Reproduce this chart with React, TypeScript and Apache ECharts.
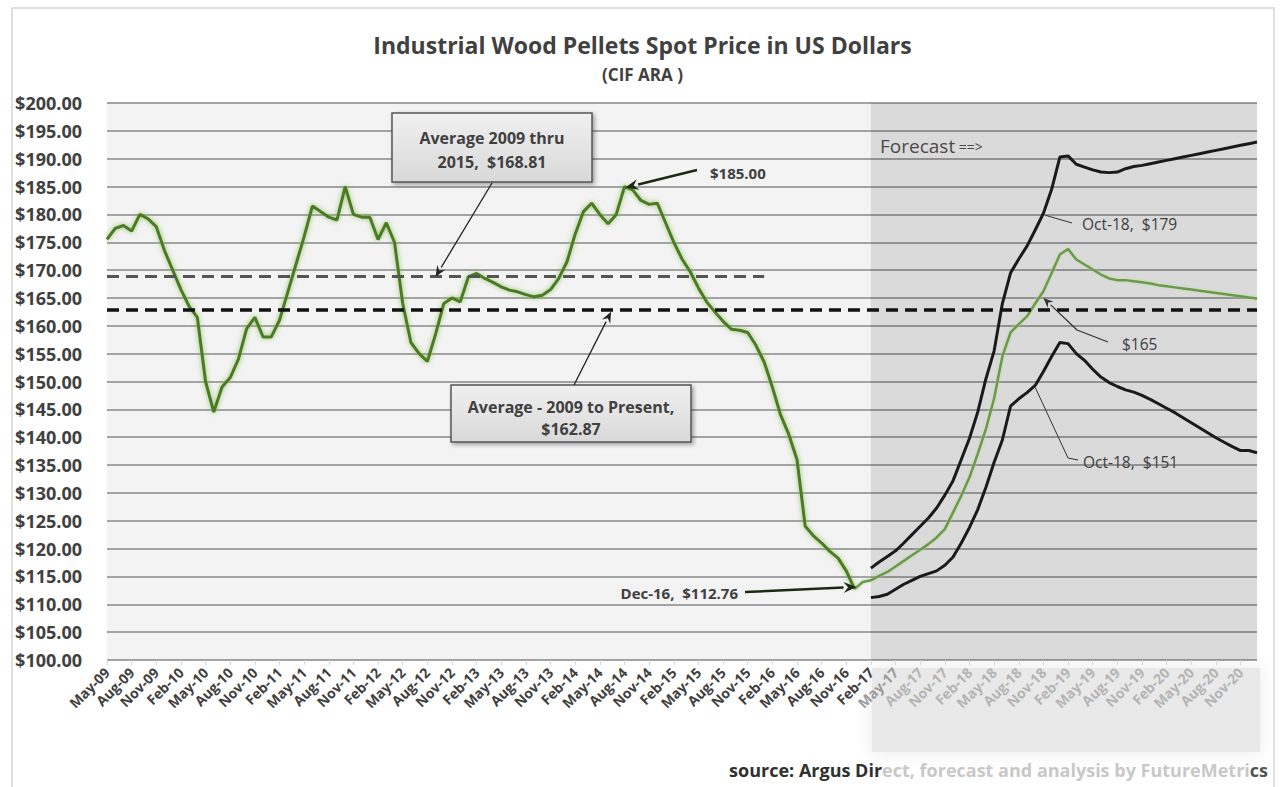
import React, { useEffect, useRef } from "react";
import * as echarts from "echarts";

// ---------- data ----------
const MONTH_NAMES = ["Jan", "Feb", "Mar", "Apr", "May", "Jun", "Jul", "Aug", "Sep", "Oct", "Nov", "Dec"];
const START_YEAR = 2009;
const START_MONTH = 4; // May
const MONTH_COUNT = 141; // May-09 .. Jan-21

const categories: string[] = [];
for (let i = 0; i < MONTH_COUNT; i++) {
  const m = (START_MONTH + i) % 12;
  const y = START_YEAR + Math.floor((START_MONTH + i) / 12);
  categories.push(`${MONTH_NAMES[m]}-${String(y % 100).padStart(2, "0")}`);
}

// monthly spot price, May-09 .. Dec-16
const histPrices = [
  175.5, 177.5, 178, 177, 180, 179.2, 177.8, 173.5, 170, 166.5,
  163.5, 161.5, 150, 144.5, 149, 150.7, 154, 159.5, 161.5, 158,
  158, 161, 166, 171, 176, 181.5, 180.5, 179.5, 179, 185,
  180, 179.5, 179.5, 175.5, 178.5, 175, 164, 157, 155, 153.6,
  158.5, 164, 165, 164.3, 168.8, 169.4, 168.5, 167.8, 167, 166.4,
  166.1, 165.6, 165.2, 165.5, 166.5, 168.5, 171.5, 176.5, 180.5, 182,
  180, 178.3, 180, 185, 184.4, 182.5, 181.8, 182, 178.5, 175,
  172, 169.7, 166.8, 164.3, 162.5, 160.8, 159.4, 159.2, 158.8, 156.5,
  153.5, 149, 144, 140.5, 136, 124, 122.3, 121, 119.5, 118.3,
  116, 112.76,
];
const HIST_START = 0;

// forecast (base case), Jan-17 .. Jan-21
const forecastMid = [
  114, 114.3, 115.1, 115.8, 116.8, 117.8, 118.8, 119.8, 120.8, 122,
  123.5, 126.5, 129.5, 132.8, 137, 141.5, 147, 154.5, 158.8, 160.3,
  161.7, 164, 166.2, 169.5, 172.8, 173.8, 171.9, 171, 170.1, 169.2,
  168.5, 168.2, 168.2, 168, 167.8, 167.6, 167.3, 167.1, 166.9, 166.7,
  166.5, 166.3, 166.1, 165.9, 165.7, 165.5, 165.3, 165.1, 164.9,
];
const MID_START = 92;

// forecast high case, Feb-17 .. Jan-21
const forecastHigh = [
  116.5, 117.6, 118.6, 119.6, 121, 122.5, 124, 125.5, 127.3, 129.6,
  132.2, 136, 139.8, 144.5, 150.5, 155.5, 164, 169.5, 172, 174.3,
  177.2, 180.2, 184.5, 190.3, 190.5, 189, 188.5, 188, 187.6, 187.5,
  187.6, 188.2, 188.6, 188.8, 189.1, 189.4, 189.7, 190, 190.3, 190.6,
  190.9, 191.2, 191.5, 191.8, 192.1, 192.4, 192.7, 193,
];
// forecast low case, Feb-17 .. Jan-21
const forecastLow = [
  111.2, 111.4, 111.8, 112.7, 113.6, 114.3, 115, 115.5, 116, 117,
  118.5, 121, 123.8, 127, 131, 135.5, 139.5, 145.6, 146.9, 148,
  149.3, 151.8, 154.5, 157, 156.8, 155, 153.8, 152.2, 150.8, 149.8,
  149.1, 148.5, 148.1, 147.5, 146.8, 146, 145.2, 144.4, 143.5, 142.6,
  141.7, 140.8, 139.9, 139.1, 138.3, 137.6, 137.6, 137.2,
];
const CASE_START = 93;

const AVG_2009_2015 = 168.81;
const AVG_2009_PRESENT = 162.87;
const AVG_2015_END_INDEX = 80;
const FORECAST_START_INDEX = 93;

const TITLE = "Industrial Wood Pellets Spot Price in US Dollars";
const SUBTITLE = "(CIF ARA )";
const SOURCE_A = "source: Argus Dir";
const SOURCE_B = "ect, forecast and analysis by FutureMetri";
const SOURCE_C = "cs";

const FONT = "Open Sans";

function pad(values: number[], start: number): (number | null)[] {
  const out: (number | null)[] = new Array(MONTH_COUNT).fill(null);
  values.forEach((v, i) => (out[start + i] = v));
  return out;
}

function arrow(x1: number, y1: number, x2: number, y2: number, color: string, width: number, head: number) {
  const ang = Math.atan2(y2 - y1, x2 - x1);
  const hx = x2 - head * Math.cos(ang);
  const hy = y2 - head * Math.sin(ang);
  const px = -Math.sin(ang) * head * 0.42;
  const py = Math.cos(ang) * head * 0.42;
  return [
    { type: "line", silent: true, z: 12, shape: { x1, y1, x2: hx, y2: hy }, style: { stroke: color, lineWidth: width } },
    {
      type: "polygon",
      silent: true,
      z: 12,
      shape: { points: [[x2, y2], [hx + px, hy + py], [hx + 0.35 * (x2 - hx), hy + 0.35 * (y2 - hy)], [hx - px, hy - py]] },
      style: { fill: color },
    },
  ];
}

export default function App() {
  const ref = useRef<HTMLDivElement>(null);

  useEffect(() => {
    if (!ref.current) return;
    const chart = echarts.init(ref.current, undefined, { renderer: "svg" });

    const histData = pad(histPrices, HIST_START);
    const midData = pad([histPrices[histPrices.length - 1], ...forecastMid], MID_START - 1);
    const highData = pad(forecastHigh, CASE_START);
    const lowData = pad(forecastLow, CASE_START);

    const labelColor = (v: string) => {
      const idx = categories.indexOf(v);
      if (idx <= FORECAST_START_INDEX) return "#404040";
      if (idx <= FORECAST_START_INDEX + 3) return "#9a9a9a";
      return "#b4b4b4";
    };

    chart.setOption({
      animation: false,
      backgroundColor: "#ffffff",
      title: {
        text: TITLE,
        subtext: SUBTITLE,
        left: "center",
        top: 28,
        itemGap: 10,
        textStyle: { fontFamily: FONT, fontSize: 23, fontWeight: "bold", color: "#404040" },
        subtextStyle: { fontFamily: FONT, fontSize: 17, fontWeight: "bold", color: "#404040" },
      },
      grid: { left: 107, right: 28, top: 103, bottom: 127, show: true, backgroundColor: "#f3f3f3", borderWidth: 0 },
      xAxis: {
        type: "category",
        data: categories,
        boundaryGap: false,
        axisLine: { show: false },
        axisTick: { show: true, interval: 2, length: 5, lineStyle: { color: "#d6d6d6" } },
        axisLabel: {
          interval: 2,
          rotate: 45,
          margin: 10,
          fontFamily: FONT,
          fontSize: 14,
          fontWeight: "bold",
          color: labelColor,
        },
        splitLine: { show: false },
      },
      yAxis: {
        type: "value",
        min: 100,
        max: 200,
        interval: 5,
        axisLine: { show: false },
        axisTick: { show: false },
        axisLabel: {
          margin: 25,
          fontFamily: FONT,
          fontSize: 18,
          fontWeight: "bold",
          color: "#404040",
          formatter: (v: number) => "$" + v.toFixed(2),
        },
        splitLine: { lineStyle: { color: "#a3a3a3", width: 2 } },
      },
      series: [
        {
          name: "Spot price",
          type: "line",
          data: histData,
          showSymbol: false,
          connectNulls: false,
          z: 4,
          lineStyle: { color: "#4b7a24", width: 3, shadowColor: "rgba(130,185,80,0.9)", shadowBlur: 5 },
          markArea: {
            silent: true,
            itemStyle: { color: "rgba(0,0,0,0.1)" },
            data: [[{ xAxis: categories[FORECAST_START_INDEX] }, { xAxis: categories[MONTH_COUNT - 1] }]],
          },
          markLine: {
            silent: true,
            symbol: "none",
            label: { show: false },
            lineStyle: { color: "#555555", width: 3, type: [12, 7] },
            data: [[{ coord: [categories[0], AVG_2009_2015] }, { coord: [categories[AVG_2015_END_INDEX], AVG_2009_2015] }]],
          },
        },
        {
          name: "Forecast",
          type: "line",
          data: midData,
          showSymbol: false,
          z: 3,
          lineStyle: { color: "#6a9a48", width: 2.5, shadowColor: "rgba(180,215,150,0.8)", shadowBlur: 3 },
        },
        {
          name: "Forecast high",
          type: "line",
          data: highData,
          showSymbol: false,
          z: 3,
          lineStyle: { color: "#1a1a1a", width: 3 },
          markLine: {
            silent: true,
            symbol: "none",
            label: { show: false },
            lineStyle: { color: "#111111", width: 3.5, type: [12, 7] },
            data: [[{ coord: [categories[0], AVG_2009_PRESENT] }, { coord: [categories[MONTH_COUNT - 1], AVG_2009_PRESENT] }]],
          },
        },
        {
          name: "Forecast low",
          type: "line",
          data: lowData,
          showSymbol: false,
          z: 3,
          lineStyle: { color: "#1a1a1a", width: 3 },
        },
      ],
    });

    const px = (i: number, v: number) => chart.convertToPixel({ gridIndex: 0 }, [categories[i], v]) as number[];

    const tip185 = px(63, histPrices[63]);
    const tipDec = px(91, histPrices[91]);
    const tipAvg1 = px(40, AVG_2009_2015);
    const tipAvg2 = px(61, AVG_2009_PRESENT);
    const tip179 = px(114, forecastHigh[114 - CASE_START]);
    const tip165 = px(114, 165);
    const tip151 = px(113, forecastLow[113 - CASE_START]);

    const textStyle = (t: string, size: number, weight: string, extra: any = {}) => ({
      text: t,
      fontFamily: FONT,
      fontSize: size,
      fontWeight: weight,
      fill: "#404040",
      ...extra,
    });

    const boxFill = () =>
      new echarts.graphic.LinearGradient(0, 0, 0, 1, [
        { offset: 0, color: "#f0f0f0" },
        { offset: 1, color: "#d9d9d9" },
      ]);

    const graphic: any[] = [
      // outer frame
      { type: "rect", silent: true, z: -10, shape: { x: 12, y: 8, width: 1262, height: 800 }, style: { fill: "none", stroke: "#d6d6d6", lineWidth: 1.5 } },
      // faded area behind forecast labels
      {
        type: "rect",
        silent: true,
        z: -5,
        shape: { x: 872, y: 668, width: 388, height: 84 },
        style: { fill: "#e9e9e9", shadowBlur: 18, shadowColor: "#e9e9e9" },
      },
      // box 1
      {
        type: "rect",
        silent: true,
        z: 10,
        shape: { x: 392, y: 113, width: 200, height: 69 },
        style: { fill: boxFill(), stroke: "#555555", lineWidth: 1.5, shadowBlur: 4, shadowOffsetX: 2, shadowOffsetY: 2, shadowColor: "rgba(0,0,0,0.35)" },
      },
      { type: "text", silent: true, z: 11, x: 492, y: 138, style: textStyle("Average 2009 thru", 16, "bold", { align: "center", verticalAlign: "middle" }) },
      { type: "text", silent: true, z: 11, x: 492, y: 162, style: textStyle("2015,  $168.81", 16, "bold", { align: "center", verticalAlign: "middle" }) },
      // box 2
      {
        type: "rect",
        silent: true,
        z: 10,
        shape: { x: 451, y: 385, width: 240, height: 57 },
        style: { fill: boxFill(), stroke: "#555555", lineWidth: 1.5, shadowBlur: 4, shadowOffsetX: 2, shadowOffsetY: 2, shadowColor: "rgba(0,0,0,0.35)" },
      },
      { type: "text", silent: true, z: 11, x: 571, y: 407, style: textStyle("Average - 2009 to Present,", 16, "bold", { align: "center", verticalAlign: "middle" }) },
      { type: "text", silent: true, z: 11, x: 571, y: 429, style: textStyle("$162.87", 16, "bold", { align: "center", verticalAlign: "middle" }) },
      // arrows
      ...arrow(492, 183, tipAvg1[0], tipAvg1[1], "#222222", 1.3, 11),
      ...arrow(574, 385, tipAvg2[0] + 3, tipAvg2[1] + 2, "#222222", 1.3, 11),
      ...arrow(697, 170, tip185[0] + 1, tip185[1] + 1, "#1c2a14", 2.5, 13),
      ...arrow(745, 592, tipDec[0] + 2, tipDec[1] - 2, "#1c2a14", 2.5, 13),
      { type: "text", silent: true, z: 11, x: 710, y: 173, style: textStyle("$185.00", 15, "bold", { verticalAlign: "middle" }) },
      { type: "text", silent: true, z: 11, x: 738, y: 593, style: textStyle("Dec-16,  $112.76", 15, "bold", { align: "right", verticalAlign: "middle" }) },
      // forecast labels
      {
        type: "text",
        silent: true,
        z: 11,
        x: 880,
        y: 146,
        style: {
          text: "{a|Forecast}{b| ==>}",
          verticalAlign: "middle",
          rich: {
            a: { fontFamily: FONT, fontSize: 19, fill: "#4a4a4a" },
            b: { fontFamily: FONT, fontSize: 14, fill: "#4a4a4a" },
          },
        },
      },
      { type: "polyline", silent: true, z: 11, shape: { points: [[tip179[0] + 2, tip179[1] + 2], [1072, 223]] }, style: { stroke: "#333333", lineWidth: 1 } },
      { type: "text", silent: true, z: 11, x: 1082, y: 224, style: textStyle("Oct-18,  $179", 15.5, "normal", { verticalAlign: "middle" }) },
      { type: "polyline", silent: true, z: 11, shape: { points: [[1108, 342], [1077, 330]] }, style: { stroke: "#333333", lineWidth: 1.3 } },
      ...arrow(1077, 330, tip165[0], tip165[1], "#333333", 1.3, 10),
      { type: "text", silent: true, z: 11, x: 1122, y: 344, style: textStyle("$165", 15.5, "normal", { verticalAlign: "middle" }) },
      { type: "polyline", silent: true, z: 11, shape: { points: [[tip151[0], tip151[1] + 2], [1068, 458], [1078, 460]] }, style: { stroke: "#333333", lineWidth: 1 } },
      { type: "text", silent: true, z: 11, x: 1083, y: 462, style: textStyle("Oct-18,  $151", 15.5, "normal", { verticalAlign: "middle" }) },
      // source
      {
        type: "text",
        silent: true,
        z: 11,
        x: 1268,
        y: 770,
        style: {
          text: `{a|${SOURCE_A}}{b|${SOURCE_B}}{c|${SOURCE_C}}`,
          align: "right",
          verticalAlign: "middle",
          rich: {
            a: { fontFamily: FONT, fontSize: 18, fontWeight: "bold", fill: "#303030" },
            b: { fontFamily: FONT, fontSize: 18, fontWeight: "bold", fill: "#c8c8c8" },
            c: { fontFamily: FONT, fontSize: 18, fontWeight: "bold", fill: "#555555" },
          },
        },
      },
    ];

    chart.setOption({ graphic });

    return () => chart.dispose();
  }, []);

  return (
    <div
      ref={ref}
      style={{ position: "absolute", left: 0, top: 0, width: 1285, height: 787, background: "#ffffff" }}
    />
  );
}
